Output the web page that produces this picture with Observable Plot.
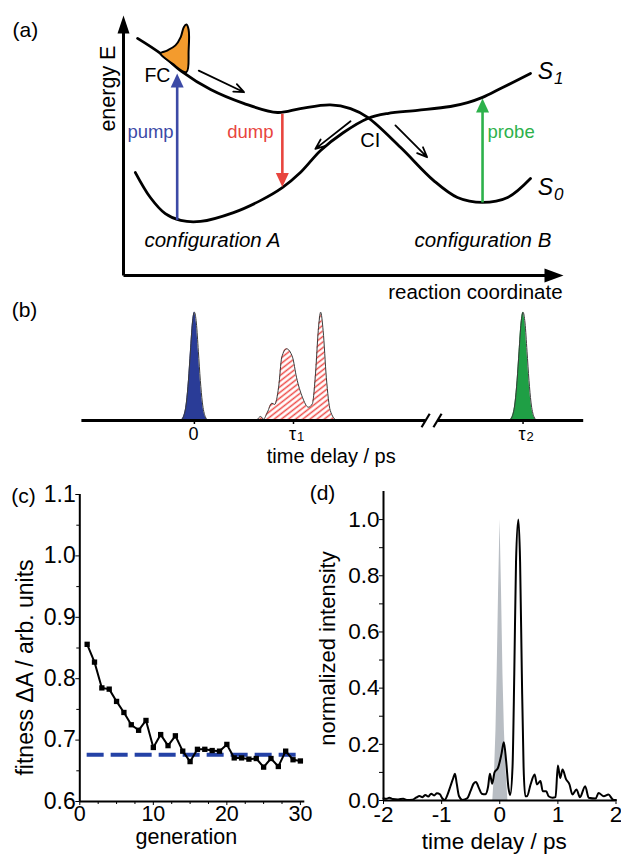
<!DOCTYPE html>
<html>
<head>
<meta charset="utf-8">
<script src="https://cdn.jsdelivr.net/npm/d3@7"></script>
<script src="https://cdn.jsdelivr.net/npm/@observablehq/plot@0.6"></script>
<style>
  body { margin: 0; background: #fff; }
  #fig { position: relative; width: 621px; height: 854px; overflow: hidden; }
  #fig svg { position: absolute; overflow: visible; }
</style>
</head>
<body>
<div id="fig"></div>
<script>
// ---------- (a) potential energy surfaces (reaction coordinate, energy) ----------
const pesUpperX = [0.32, 0.84, 1.32, 1.98, 2.73, 3.5, 4.02, 4.7, 5.16, 5.55, 6.3, 7.05, 7.59, 8.16, 8.73, 9.25];
const pesUpperE = [9.12, 8.54, 7.85, 7.15, 6.62, 6.27, 6.42, 6.56, 6.42, 6.08, 4.92, 3.65, 3.0, 2.81, 3.0, 3.73];
const pesLowerX = [0.27, 0.61, 0.95, 1.3, 1.75, 2.5, 3.11, 3.61, 4.02, 4.48, 5.0, 5.55, 6.0, 6.68, 7.43, 7.82, 8.16, 8.57, 9.25];
const pesLowerE = [3.96, 3.0, 2.38, 2.12, 2.08, 2.42, 2.88, 3.38, 3.96, 4.81, 5.5, 6.04, 6.23, 6.35, 6.5, 6.65, 6.85, 7.19, 7.77];
// wavepacket at the Franck-Condon point
const packetX = [0.84, 0.99, 1.18, 1.3, 1.37, 1.43, 1.48, 1.48, 1.43, 1.11];
const packetE = [8.54, 8.65, 8.85, 9.17, 9.55, 9.65, 9.45, 8.65, 7.82, 8.15];
// optical transitions
const transName = ["pump", "dump", "probe"];
const transX = [1.22, 3.61, 8.16];
const transFrom = [2.14, 6.22, 2.81];
const transTo = [7.77, 3.40, 6.81];
// wavepacket motion
const flowX1 = [1.71, 5.16, 6.18];
const flowE1 = [7.88, 5.93, 5.77];
const flowX2 = [2.74, 4.36, 6.90];
const flowE2 = [7.05, 4.87, 4.55];

// ---------- (b) pulse sequence ----------
const pumpPulseT = [-0.14, -0.11, -0.08, -0.06, -0.04, -0.02, 0, 0.02, 0.04, 0.06, 0.08, 0.11, 0.14];
const pumpPulseA = [0, 0.035, 0.17, 0.37, 0.64, 0.9, 1, 0.9, 0.64, 0.37, 0.17, 0.035, 0];
const dumpPulseT = [0.629, 0.669, 0.697, 0.737, 0.782, 0.81, 0.85, 0.882, 0.93, 0.99, 1.03, 1.09, 1.15, 1.19, 1.222, 1.25, 1.274, 1.299, 1.331, 1.371, 1.431, 1.47];
const dumpPulseA = [0, 0.037, 0.012, 0.077, 0.16, 0.148, 0.308, 0.585, 0.662, 0.585, 0.4, 0.215, 0.123, 0.154, 0.43, 0.83, 1.0, 0.83, 0.4, 0.092, 0.006, 0];
const probePulseT = [3.176, 3.206, 3.236, 3.256, 3.276, 3.296, 3.316, 3.336, 3.356, 3.376, 3.396, 3.426, 3.456];
const probePulseA = [0, 0.035, 0.17, 0.37, 0.64, 0.9, 1, 0.9, 0.64, 0.37, 0.17, 0.035, 0];
const delayTicks = [0, 1, 3.316];
const delayTickMain = ["0", "τ", "τ"];
const delayTickSub = ["", "1", "2"];
const delayAxisStart = -1.135, delayAxisEnd = 3.928;
const delayBreakFrom = 2.333, delayBreakTo = 2.453;

// ---------- (c) optimization: fitness per generation ----------
const generation = [1, 2, 3, 4, 5, 6, 7, 8, 9, 10, 11, 12, 13, 14, 15, 16, 17, 18, 19, 20, 21, 22, 23, 24, 25, 26, 27, 28, 29, 30];
const fitness = [0.856, 0.827, 0.785, 0.783, 0.763, 0.745, 0.725, 0.716, 0.732, 0.688, 0.709, 0.691, 0.707, 0.682, 0.665,
                 0.685, 0.685, 0.683, 0.682, 0.693, 0.671, 0.671, 0.669, 0.670, 0.656, 0.670, 0.657, 0.682, 0.668, 0.666];
const fitnessReference = 0.676;
const fitnessTicks = [0.6, 0.7, 0.8, 0.9, 1.0, 1.1];
const fitnessMinorTicks = [0.65, 0.75, 0.85, 0.95, 1.05];
const generationTicks = [0, 10, 20, 30];
const generationMinorTicks = [2.5, 5, 7.5, 12.5, 15, 17.5, 22.5, 25, 27.5];

// ---------- (d) optimized pulse train ----------
const delay = [-2.00, -1.95, -1.90, -1.84, -1.75, -1.66, -1.60, -1.50, -1.44, -1.38, -1.33, -1.28, -1.23, -1.18, -1.13, -1.08,
               -1.03, -0.99, -0.95, -0.90, -0.85, -0.80, -0.77, -0.74, -0.70, -0.64, -0.56, -0.50, -0.45, -0.41, -0.36, -0.31,
               -0.25, -0.20, -0.17, -0.13, -0.09, -0.03, 0.03, 0.07, 0.11, 0.15, 0.18, 0.22, 0.25, 0.28, 0.32, 0.35, 0.38,
               0.41, 0.44, 0.47, 0.53, 0.60, 0.64, 0.70, 0.74, 0.80, 0.84, 0.91, 0.96, 1.00, 1.04, 1.08, 1.14, 1.20, 1.25,
               1.32, 1.38, 1.47, 1.53, 1.65, 1.70, 1.79, 1.87, 1.95, 2.00];
const intensity = [0.008, 0.006, 0.010, 0.005, 0.004, 0.006, 0.002, 0.003, 0.010, 0.016, 0.012, 0.020, 0.014, 0.024, 0.018, 0.026,
                   0.022, 0.008, 0.002, 0.020, 0.050, 0.080, 0.095, 0.060, 0.015, 0.002, 0.008, 0.035, 0.060, 0.066, 0.045, 0.024,
                   0.022, 0.050, 0.095, 0.060, 0.100, 0.116, 0.166, 0.207, 0.140, 0.045, 0.020, 0.120, 0.450, 0.850, 1.000, 0.850, 0.450,
                   0.120, 0.015, 0.015, 0.057, 0.093, 0.057, 0.069, 0.033, 0.033, 0.015, 0.010, 0.012, 0.125, 0.080, 0.110, 0.076, 0.057, 0.021,
                   0.039, 0.012, 0.051, 0.010, 0.007, 0.027, 0.015, 0.021, 0.003, 0.002];
const referenceDelay = [-0.12, -0.09, -0.065, -0.045, -0.02, 0.005, 0.03, 0.055, 0.08, 0.11, 0.14];
const referenceIntensity = [0, 0.1, 0.25, 0.45, 0.75, 1.0, 0.75, 0.45, 0.25, 0.1, 0];
const delayAxisTicks = [-2, -1, 0, 1, 2];
const intensityTicks = [0, 0.2, 0.4, 0.6, 0.8, 1.0];
const intensityMinorTicks = [0.1, 0.3, 0.5, 0.7, 0.9];

// ---------- drawing ----------
const FONT = '"Liberation Sans", Arial, Helvetica, sans-serif';
const fig = document.getElementById("fig");
function place(svg, left, top) {
  svg.style.left = left + "px";
  svg.style.top = top + "px";
  fig.appendChild(svg);
}
const baseStyle = {fontFamily: FONT, color: "#000", background: "transparent", overflow: "visible"};
const centered = {textAnchor: "middle", lineAnchor: "middle"};

// filled arrowheads whose tip sits on the anchor point
function head(dir, half, len) {
  return {
    draw(ctx) {
      ctx.moveTo(0, 0);
      if (dir === "up") { ctx.lineTo(-half, len); ctx.lineTo(half, len); }
      else if (dir === "down") { ctx.lineTo(-half, -len); ctx.lineTo(half, -len); }
      else { ctx.lineTo(-len, -half); ctx.lineTo(-len, half); }
      ctx.closePath();
    }
  };
}

// (a)
const upper = pesUpperX.map((x, i) => ({x, e: pesUpperE[i]}));
const lower = pesLowerX.map((x, i) => ({x, e: pesLowerE[i]}));
const packet = packetX.map((x, i) => ({x, e: packetE[i]}));
const trans = transName.map((name, i) => ({name, x: transX[i], from: transFrom[i], to: transTo[i]}));
const flows = flowX1.map((x1, i) => ({x1, y1: flowE1[i], x2: flowX2[i], y2: flowE2[i]}));
const transColor = {pump: "#3c4aa6", dump: "#e8453e", probe: "#2db14b"};

const transMarks = [];
for (const name of transName) {
  const d = trans.filter(t => t.name === name);
  const up = d[0].to > d[0].from;
  transMarks.push(
    Plot.link(d, {x1: "x", x2: "x", y1: "from", y2: t => t.to + (up ? -0.3 : 0.3), stroke: transColor[name], strokeWidth: 2.6}),
    Plot.dot(d, {x: "x", y: "to", symbol: head(up ? "up" : "down", 6.5, 14), fill: transColor[name], stroke: "none"})
  );
}

const txtA = (s, o) => Plot.text([s], {text: d => d, fontSize: 20, ...centered, ...o});

const plotA = Plot.plot({
  width: 621, height: 305,
  marginLeft: 123, marginRight: 58, marginTop: 15, marginBottom: 30,
  x: {domain: [0, 10], axis: null},
  y: {domain: [0, 10], axis: null},
  style: baseStyle,
  marks: [
    Plot.link([0], {x1: 0, y1: 0, x2: 0, y2: 9.55, strokeWidth: 3, stroke: "#000"}),
    Plot.link([0], {x1: 0, y1: 0, x2: 9.75, y2: 0, strokeWidth: 3, stroke: "#000"}),
    Plot.dot([0], {x: 0, y: 10, symbol: head("up", 6, 18), fill: "#000", stroke: "none"}),
    Plot.dot([0], {x: 10, y: 0, symbol: head("right", 7, 19), fill: "#000", stroke: "none"}),
    Plot.line(upper, {x: "x", y: "e", curve: "catmull-rom", strokeWidth: 2.8, stroke: "#000"}),
    Plot.line(lower, {x: "x", y: "e", curve: "catmull-rom", strokeWidth: 2.8, stroke: "#000"}),
    Plot.line(packet, {x: "x", y: "e", curve: "catmull-rom-closed", fill: "#f39b2d", stroke: "#000", strokeWidth: 2}),
    Plot.arrow(flows, {x1: "x1", y1: "y1", x2: "x2", y2: "y2", strokeWidth: 1.8, headLength: 9, headAngle: 45, stroke: "#000"}),
    ...transMarks,
    txtA("(a)", {x: -2.23, y: 9.42, fontSize: 21}),
    txtA("energy E", {x: -0.35, y: 7.19, rotate: -90, fontSize: 21.5}),
    txtA("reaction coordinate", {x: 9.98, y: -0.65, textAnchor: "end", fontSize: 20.5}),
    txtA("FC", {x: 0.77, y: 7.69, fontSize: 19.5}),
    txtA("CI", {x: 5.61, y: 5.19}),
    txtA("pump", {x: 1.14, y: 5.5, textAnchor: "end", fontSize: 18.5, fill: transColor.pump}),
    txtA("dump", {x: 3.41, y: 5.5, textAnchor: "end", fontSize: 18.5, fill: transColor.dump}),
    txtA("probe", {x: 8.27, y: 5.5, textAnchor: "start", fontSize: 18.5, fill: transColor.probe}),
    txtA("configuration A", {x: 2.02, y: 1.35, fontStyle: "italic", fontSize: 20.5}),
    txtA("configuration B", {x: 8.17, y: 1.35, fontStyle: "italic", fontSize: 20.5}),
    txtA("S", {x: 9.59, y: 7.83, fontStyle: "italic", fontSize: 23}),
    txtA("1", {x: 9.89, y: 7.56, fontStyle: "italic", fontSize: 17}),
    txtA("S", {x: 9.59, y: 3.37, fontStyle: "italic", fontSize: 23}),
    txtA("0", {x: 9.89, y: 3.13, fontStyle: "italic", fontSize: 17})
  ]
});
place(plotA, 0, 0);

// (b)
const pump = pumpPulseT.map((t, i) => ({t, a: pumpPulseA[i]}));
const dump = dumpPulseT.map((t, i) => ({t, a: dumpPulseA[i]}));
const probe = probePulseT.map((t, i) => ({t, a: probePulseA[i]}));
const ticksB = delayTicks.map((t, i) => ({t, main: delayTickMain[i], sub: delayTickSub[i]}));
const pulseMarks = (data, fill) => [
  Plot.areaY(data, {x: "t", y: "a", fill, curve: "monotone-x"}),
  Plot.line(data, {x: "t", y: "a", stroke: "#3a3a3a", strokeWidth: 1, curve: "monotone-x"})
];

const plotB = Plot.plot({
  width: 621, height: 175,
  marginLeft: 81.4, marginRight: 37.8, marginTop: 21.7, marginBottom: 45,
  x: {domain: [delayAxisStart, delayAxisEnd]},
  y: {domain: [0, 1], axis: null},
  style: baseStyle,
  marks: [
    ...pulseMarks(pump, "#2a3c97"),
    ...pulseMarks(dump, "url(#dumpHatch)"),
    ...pulseMarks(probe, "#1f9f45"),
    Plot.ruleY([0], {x1: delayAxisStart, x2: delayBreakFrom, strokeWidth: 3, stroke: "#000"}),
    Plot.ruleY([0], {x1: delayBreakTo, x2: delayAxisEnd, strokeWidth: 3, stroke: "#000"}),
    Plot.link([delayBreakFrom, delayBreakTo], {x1: d => d - 0.041, y1: -0.062, x2: d => d + 0.041, y2: 0.062, strokeWidth: 2.2, stroke: "#000"}),
    Plot.axisX({ticks: delayTicks, tickSize: 4, tickFormat: () => "", label: null, strokeWidth: 1.5}),
    Plot.text(ticksB, {x: "t", y: -0.13, text: "main", fontSize: 18, dx: -1, ...centered}),
    Plot.text(ticksB, {x: "t", y: -0.155, text: "sub", fontSize: 13, dx: 7, ...centered}),
    Plot.text(["time delay / ps"], {x: 1.381, y: -0.335, text: d => d, fontSize: 20, ...centered}),
    Plot.text(["(b)"], {x: -1.714, y: 1.016, text: d => d, fontSize: 21, ...centered})
  ]
});
{
  const defs = d3.select(plotB).insert("defs", ":first-child");
  const pat = defs.append("pattern").attr("id", "dumpHatch")
    .attr("patternUnits", "userSpaceOnUse").attr("width", 8).attr("height", 4.4)
    .attr("patternTransform", "rotate(-38)");
  pat.append("rect").attr("width", 8).attr("height", 4.4).attr("fill", "#fff");
  pat.append("line").attr("x1", 0).attr("x2", 8).attr("y1", 2.2).attr("y2", 2.2)
    .attr("stroke", "#ee4b47").attr("stroke-width", 1.5);
}
place(plotB, 0, 290);

// (c)
const fit = generation.map((g, i) => ({g, f: fitness[i]}));
const plotC = Plot.plot({
  width: 320, height: 374,
  marginLeft: 79.3, marginRight: 15.7, marginTop: 14, marginBottom: 53,
  x: {domain: [0, 30.6]},
  y: {domain: [0.6, 1.1]},
  style: {...baseStyle, fontSize: "23px"},
  marks: [
    Plot.ruleY([fitnessReference], {x1: 1, x2: 30, stroke: "#2442a6", strokeWidth: 4, strokeDasharray: "17,7"}),
    Plot.line(fit, {x: "g", y: "f", stroke: "#000", strokeWidth: 2}),
    Plot.dot(fit, {x: "g", y: "f", symbol: "square", r: 3, fill: "#000", stroke: "none"}),
    Plot.ruleX([0], {strokeWidth: 2, stroke: "#000"}),
    Plot.ruleY([0.6], {strokeWidth: 2, stroke: "#000"}),
    Plot.axisY({ticks: fitnessTicks, tickFormat: d => d.toFixed(1), tickSize: 4, tickPadding: 0, label: null, fontSize: 23}),
    Plot.axisY({ticks: fitnessMinorTicks, tickFormat: () => "", tickSize: 3, label: null}),
    Plot.axisX({ticks: generationTicks, tickSize: 4, tickPadding: 0, label: null, fontSize: 21.5}),
    Plot.axisX({ticks: generationMinorTicks, tickFormat: () => "", tickSize: 3, label: null}),
    Plot.text(["fitness ΔA / arb. units"], {frameAnchor: "left", text: d => d, rotate: -90, dx: -54.3, dy: 19.5, fontSize: 23, ...centered}),
    Plot.text(["generation"], {frameAnchor: "bottom", text: d => d, dx: -6, dy: 36, fontSize: 21.5, ...centered}),
    Plot.text(["(c)"], {frameAnchor: "top-left", text: d => d, dx: -56.3, dy: 2, fontSize: 21, ...centered})
  ]
});
place(plotC, 0, 480);

// (d)
const train = delay.map((t, i) => ({t, v: intensity[i]}));
const refPulse = referenceDelay.map((t, i) => ({t, v: referenceIntensity[i]}));
const plotD = Plot.plot({
  width: 311, height: 374,
  marginLeft: 73, marginRight: 5.5, marginTop: 11, marginBottom: 54,
  x: {domain: [-2, 2]},
  y: {domain: [0, 1.1]},
  style: {...baseStyle, fontSize: "23px"},
  marks: [
    Plot.areaY(refPulse, {x: "t", y: "v", fill: "#b8bdc3"}),
    Plot.line(train, {x: "t", y: "v", curve: "monotone-x", stroke: "#000", strokeWidth: 2}),
    Plot.ruleX([-2], {strokeWidth: 2, stroke: "#000"}),
    Plot.ruleY([0], {strokeWidth: 2, stroke: "#000"}),
    Plot.axisY({ticks: intensityTicks, tickFormat: d => d.toFixed(1), tickSize: 4, tickPadding: 0, label: null, fontSize: 22.5}),
    Plot.axisY({ticks: intensityMinorTicks, tickFormat: () => "", tickSize: 4, label: null}),
    Plot.axisX({ticks: delayAxisTicks, tickFormat: d => String(d), tickSize: 4, tickPadding: 2, label: null, fontSize: 22.5}),
    Plot.text(["normalized intensity"], {frameAnchor: "left", text: d => d, rotate: -90, dx: -56, dy: 2.5, fontSize: 22, ...centered}),
    Plot.text(["time delay / ps"], {frameAnchor: "bottom", text: d => d, dx: -5.5, dy: 41, fontSize: 22.5, ...centered}),
    Plot.text(["(d)"], {frameAnchor: "top-left", text: d => d, dx: -61, dy: 2, fontSize: 21, ...centered})
  ]
});
place(plotD, 310, 480);
</script>
</body>
</html>
